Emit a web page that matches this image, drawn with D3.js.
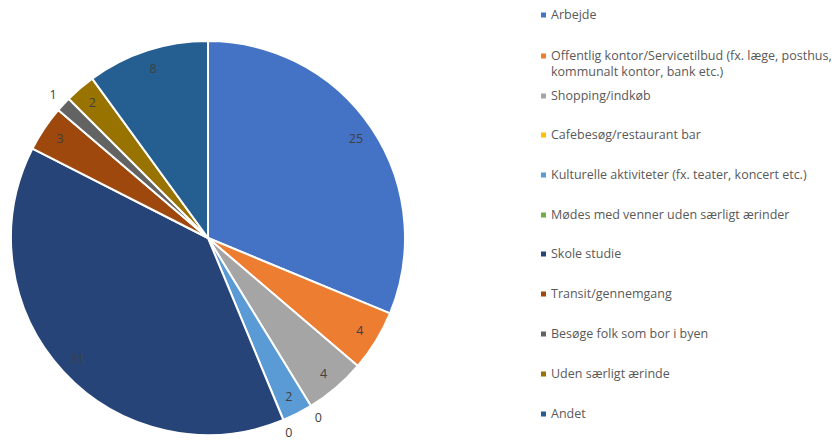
<!DOCTYPE html>
<html>
<head>
<meta charset="utf-8">
<script src="https://cdn.jsdelivr.net/npm/d3@7"></script>
<style>
	body { margin: 0; background: #fff; }
	svg { display: block; font-family: "Open Sans", "Liberation Sans", sans-serif; }
</style>
</head>
<body>
<svg id="chart" width="840" height="441"></svg>
<script>
	/* Data */
	const categories = [
		"Arbejde",
		"Offentlig kontor/Servicetilbud (fx. læge, posthus, kommunalt kontor, bank etc.)",
		"Shopping/indkøb",
		"Cafebesøg/restaurant bar",
		"Kulturelle aktiviteter (fx. teater, koncert etc.)",
		"Mødes med venner uden særligt ærinder",
		"Skole studie",
		"Transit/gennemgang",
		"Besøge folk som bor i byen",
		"Uden særligt ærinde",
		"Andet"
	];
	const values = [25, 4, 4, 0, 2, 0, 31, 3, 1, 2, 8];
	// legend lines (the second entry wraps in two lines)
	const legendLines = [
		["Arbejde"],
		["Offentlig kontor/Servicetilbud (fx. læge, posthus,", "kommunalt kontor, bank etc.)"],
		["Shopping/indkøb"],
		["Cafebesøg/restaurant bar"],
		["Kulturelle aktiviteter (fx. teater, koncert etc.)"],
		["Mødes med venner uden særligt ærinder"],
		["Skole studie"],
		["Transit/gennemgang"],
		["Besøge folk som bor i byen"],
		["Uden særligt ærinde"],
		["Andet"]
	];
	const colors = ["#4472C4", "#ED7D31", "#A5A5A5", "#FFC000", "#5B9BD5", "#70AD47",
		"#264478", "#9E480E", "#636363", "#997300", "#255E91"];

	/* Layout */
	const cx = 208, cy = 238, radius = 197;
	const insideR = 178, outsideR = 211;

	const svg = d3.select("#chart");
	const colorScale = d3.scaleOrdinal().domain(categories).range(colors);

	const data = categories.map(function(c, i) { return { key: c, value: values[i] }; });

	const pie = d3.pie()
		.value(function(d) { return d.value; })
		.sort(null);
	const arcs = pie(data);

	const arc = d3.arc().innerRadius(0).outerRadius(radius);

	const g = svg.append("g").attr("transform", "translate(" + cx + "," + cy + ")");

	g.selectAll(".slice")
		.data(arcs.filter(function(d) { return d.value > 0; }))
		.enter()
		.append("path")
		.classed("slice", true)
		.attr("d", arc)
		.attr("fill", function(d) { return colorScale(d.data.key); })
		.attr("stroke", "#fff")
		.attr("stroke-width", 2)
		.attr("stroke-linejoin", "round");

	// Data labels: inside end for big slices, outside for tiny ones
	const inArc = d3.arc().innerRadius(insideR).outerRadius(insideR);
	const outArc = d3.arc().innerRadius(outsideR).outerRadius(outsideR);

	g.selectAll(".label")
		.data(arcs)
		.enter()
		.append("text")
		.classed("label", true)
		.attr("transform", function(d) {
			let p = (d.value <= 1) ? outArc.centroid(d) : inArc.centroid(d);
			return "translate(" + p[0] + "," + p[1] + ")";
		})
		.attr("text-anchor", "middle")
		.attr("dy", "0.35em")
		.attr("font-size", 12.5)
		.attr("fill", "#404040")
		.text(function(d) { return d.value; });

	/* Legend */
	const legendY = [15, 56, 96, 135, 175, 215, 254, 294, 334, 374, 414];
	const legend = svg.append("g").attr("class", "legend");

	const items = legend.selectAll(".item")
		.data(data)
		.enter()
		.append("g")
		.classed("item", true)
		.attr("transform", function(d, i) { return "translate(541," + legendY[i] + ")"; });

	items.append("rect")
		.attr("x", 0)
		.attr("y", -2.5)
		.attr("width", 5)
		.attr("height", 5)
		.attr("fill", function(d) { return colorScale(d.key); });

	items.each(function(d, i) {
		let t = d3.select(this).append("text")
			.attr("x", 10)
			.attr("font-size", 12.5)
			.attr("fill", "#595959");
		legendLines[i].forEach(function(line, j) {
			t.append("tspan")
				.attr("x", 10)
				.attr("y", j * 16)
				.attr("dy", "0.35em")
				.text(line);
		});
	});
</script>
</body>
</html>
